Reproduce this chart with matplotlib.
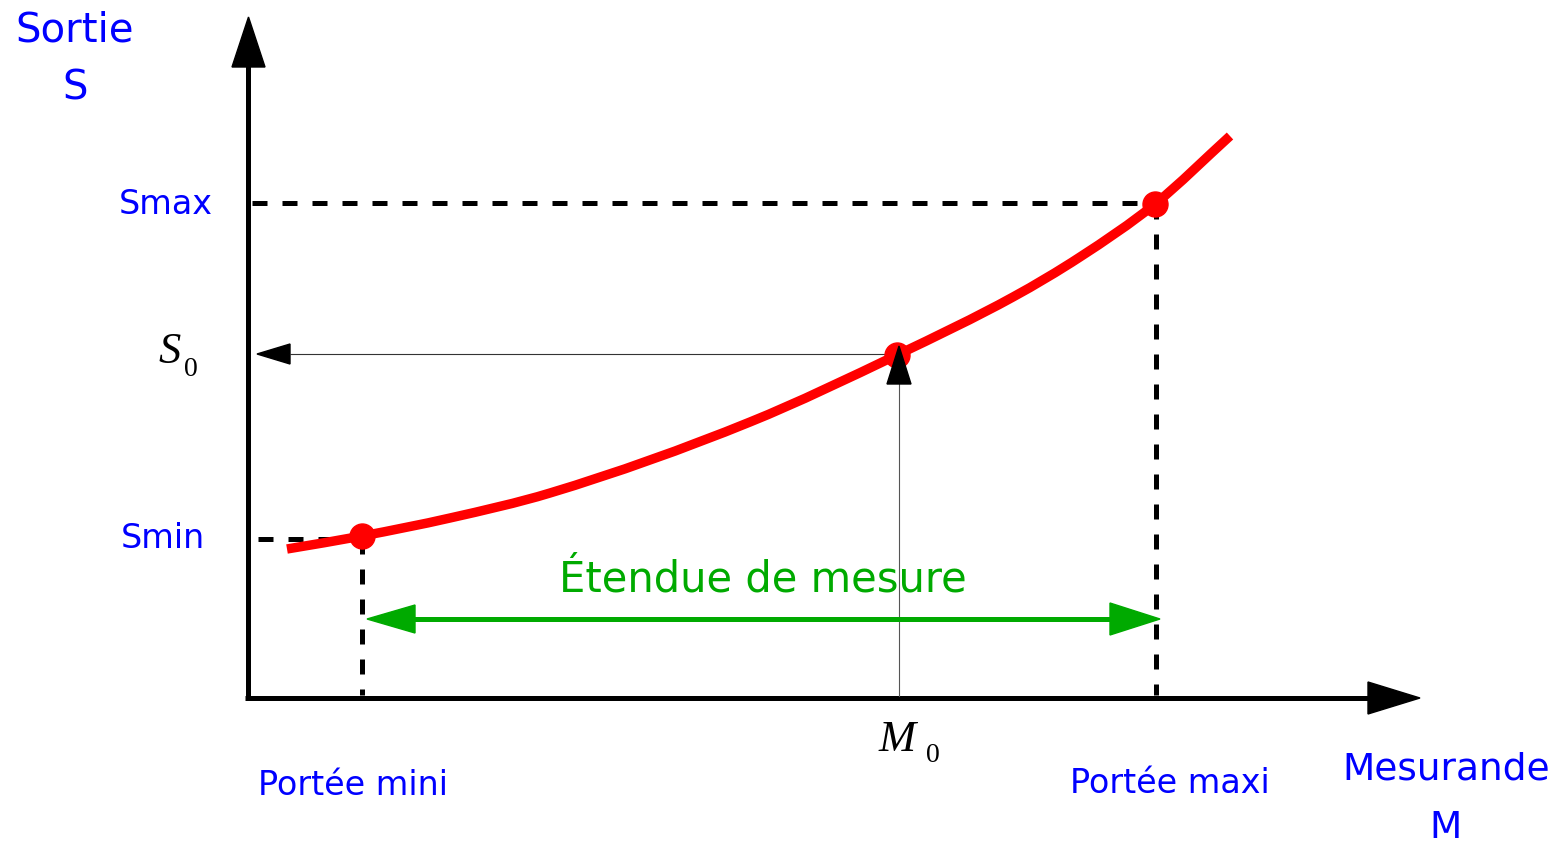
import matplotlib
matplotlib.use("Agg")
import matplotlib.pyplot as plt
from matplotlib.path import Path
from matplotlib.patches import PathPatch

plt.rcParams['font.family'] = ['DejaVu Sans']

# courbe de la sortie S en fonction du mesurande M (en pixels)
curve_m = [287, 362, 450, 550, 750, 897, 1013, 1080, 1155, 1230]
curve_s = [550, 537, 519, 494, 423, 356, 298, 258, 205, 137]

# points remarquables : portée mini, M0, portée maxi
pts_m = [362, 897, 1155]
pts_s = [537, 356, 205]

blue = '#0000ff'
green = '#00aa00'


def smooth_path(xs, ys):
    # courbe lisse passant par les points (Hermite cubique -> Bezier)
    n = len(xs)
    d = [(ys[i + 1] - ys[i]) / (xs[i + 1] - xs[i]) for i in range(n - 1)]
    m = [d[0]] + [(d[i - 1] + d[i]) / 2 for i in range(1, n - 1)] + [d[-1]]
    verts = [(xs[0], ys[0])]
    codes = [Path.MOVETO]
    for i in range(n - 1):
        h = xs[i + 1] - xs[i]
        verts += [(xs[i] + h / 3, ys[i] + m[i] * h / 3),
                  (xs[i + 1] - h / 3, ys[i + 1] - m[i + 1] * h / 3),
                  (xs[i + 1], ys[i + 1])]
        codes += [Path.CURVE4] * 3
    return Path(verts, codes)


fig = plt.figure(figsize=(15.59, 8.45), dpi=100)
ax = fig.add_axes([0, 0, 1, 1])
ax.set_xlim(0, 1559)
ax.set_ylim(845, 0)
ax.axis('off')

# axes
ax.plot([248, 248], [701, 60], color='black', lw=3.6, solid_capstyle='butt')
ax.plot([245, 1375], [699, 699], color='black', lw=3.6, solid_capstyle='butt')
ax.fill([232, 265, 248.5], [68, 68, 18], color='black')
ax.fill([1368, 1368, 1420], [683, 715, 699], color='black')

# pointillés
dash = dict(color='black', lw=3.6, ls=(0, (3, 3)))
ax.plot([252, pts_m[2]], [pts_s[2] - 1, pts_s[2] - 1], **dash)
ax.plot([1156, 1156], [pts_s[2], 696], **dash)
ax.plot([258, pts_m[0]], [540, 540], **dash)
ax.plot([pts_m[0], pts_m[0]], [540, 696], **dash)

# flèches fines M0 -> S0
ax.plot([pts_m[1], 290], [355, 355], color='#333333', lw=0.8)
ax.fill([290, 290, 257], [345, 365, 355], color='black')
ax.plot([899, 899], [697, 385], color='#555555', lw=0.8)

# courbe
ax.add_patch(PathPatch(smooth_path(curve_m, curve_s), facecolor='none',
                       edgecolor='red', lw=6.8, capstyle='butt', zorder=3))
ax.plot(pts_m, pts_s, 'o', color='red', ms=18, zorder=4)
ax.fill([887, 911, 899], [385, 385, 347], color='black', zorder=5)

# étendue de mesure
ax.plot([410, 1115], [620, 620], color=green, lw=3.6, solid_capstyle='butt')
ax.fill([415, 415, 367], [606, 634, 620], color=green)
ax.fill([1110, 1110, 1160], [604, 636, 620], color=green)
ax.text(763, 580, 'Étendue de mesure', color=green, fontsize=30,
        ha='center', va='center')

# textes
ax.text(75, 30, 'Sortie', color=blue, fontsize=29, ha='center', va='center')
ax.text(75, 88, 'S', color=blue, fontsize=29, ha='center', va='center')
ax.text(166, 204, 'Smax', color=blue, fontsize=24, ha='center', va='center')
ax.text(163, 539, 'Smin', color=blue, fontsize=24, ha='center', va='center')
ax.text(353, 786, 'Portée mini', color=blue, fontsize=24, ha='center', va='center')
ax.text(1170, 784, 'Portée maxi', color=blue, fontsize=24, ha='center', va='center')
ax.text(1446, 770, 'Mesurande', color=blue, fontsize=27, ha='center', va='center')
ax.text(1446, 828, 'M', color=blue, fontsize=27, ha='center', va='center')

serif = dict(family='Liberation Serif', color='black')
ax.text(170, 352, 'S', style='italic', fontsize=32, ha='center', va='center', **serif)
ax.text(191, 370, '0', fontsize=20, ha='center', va='center', **serif)
ax.text(897, 740, 'M', style='italic', fontsize=32, ha='center', va='center', **serif)
ax.text(933, 756, '0', fontsize=20, ha='center', va='center', **serif)

fig.savefig('out.png', dpi=100, facecolor='white')
